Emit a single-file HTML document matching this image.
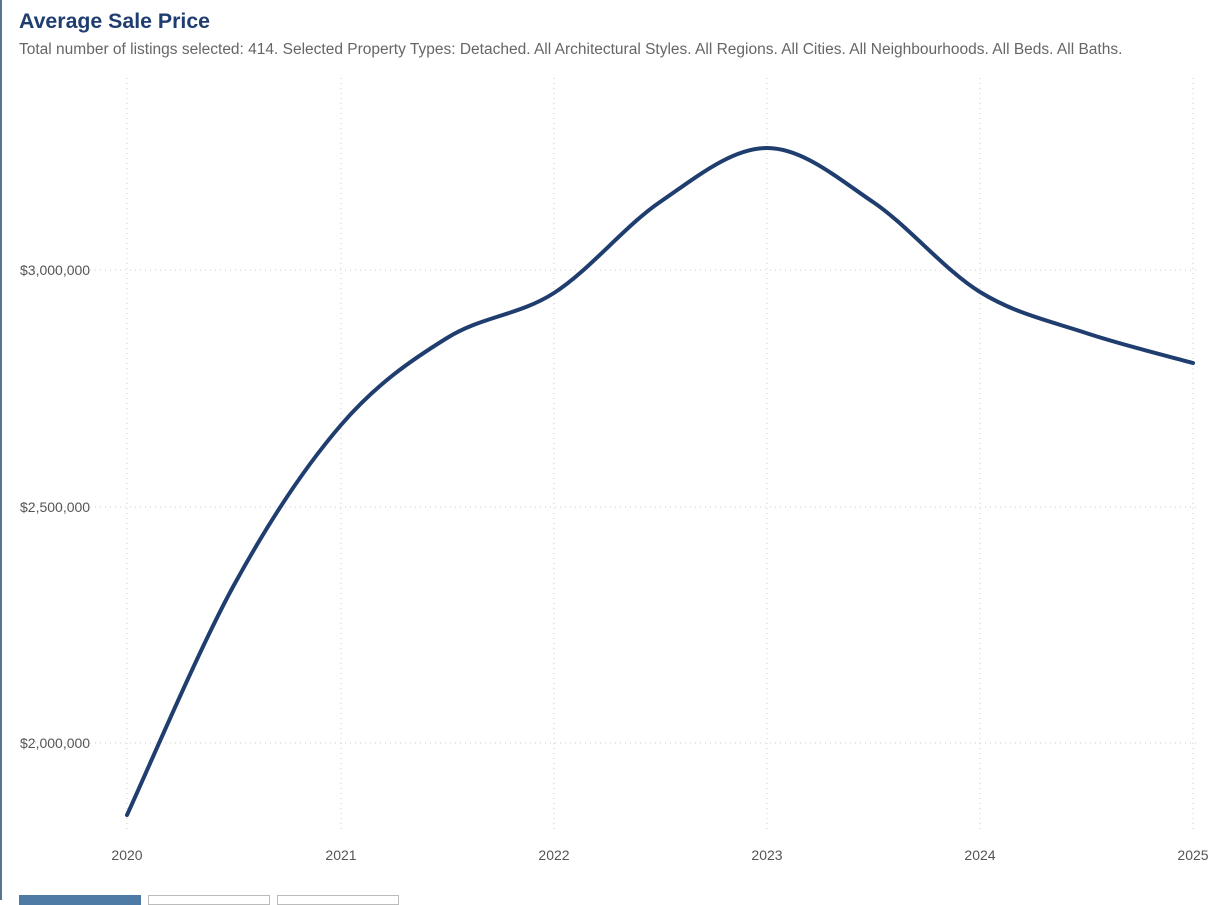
<!DOCTYPE html>
<html><head><meta charset="utf-8"><style>
body{margin:0;width:1230px;height:900px;overflow:hidden;background:#fff;font-family:"Liberation Sans",sans-serif;position:relative}
.lb{position:absolute;left:0;top:0;width:2px;height:900px;background:#5a7590}
h1{position:absolute;left:19px;top:9px;margin:0;font-size:21.3px;font-weight:bold;color:#1f3d6e}
.sub{position:absolute;left:19px;top:41px;font-size:15.5px;color:#666;white-space:nowrap}
.btn{position:absolute;top:895px;height:10px;width:122px;border:1px solid #bbb;box-sizing:border-box;background:#fff}
</style></head><body>
<div class="lb"></div>
<h1>Average Sale Price</h1>
<div class="sub">Total number of listings selected: 414. Selected Property Types: Detached. All Architectural Styles. All Regions. All Cities. All Neighbourhoods. All Beds. All Baths.</div>
<svg width="1230" height="900" style="position:absolute;left:0;top:0">
<g stroke="#ccc" stroke-dasharray="1,4" stroke-width="1">
<line x1="127" y1="78" x2="127" y2="830"/><line x1="341" y1="78" x2="341" y2="830"/><line x1="554" y1="78" x2="554" y2="830"/><line x1="767" y1="78" x2="767" y2="830"/><line x1="980" y1="78" x2="980" y2="830"/><line x1="1193" y1="78" x2="1193" y2="830"/>
<line x1="20" y1="270" x2="1200" y2="270"/><line x1="20" y1="507" x2="1200" y2="507"/><line x1="20" y1="743" x2="1200" y2="743"/>
</g>
<g font-size="14" fill="#555" font-family="Liberation Sans">
<text x="20" y="275">$3,000,000</text><text x="20" y="512">$2,500,000</text><text x="20" y="748">$2,000,000</text>
<g text-anchor="middle"><text x="127" y="860">2020</text><text x="341" y="860">2021</text><text x="554" y="860">2022</text><text x="767" y="860">2023</text><text x="980" y="860">2024</text><text x="1193" y="860">2025</text></g>
</g>
<path id="p" fill="none" stroke="#1f3d6e" stroke-width="4" stroke-linecap="round"/>
</svg>
<div class="btn" style="left:19px;background:#4e7aa6;border-color:#4e7aa6"></div>
<div class="btn" style="left:148px"></div>
<div class="btn" style="left:277px"></div>
<script>
var pts=[[127,815],[234,585],[341,425],[447,338],[554,293],[660,202],[767,148],[873,202],[980,292],[1086,333],[1193,363]];
var d="M"+pts[0];
for(var i=0;i<pts.length-1;i++){var p0=pts[i-1]||pts[i],p1=pts[i],p2=pts[i+1],p3=pts[i+2]||p2;
d+=" C"+(p1[0]+(p2[0]-p0[0])/6)+","+(p1[1]+(p2[1]-p0[1])/6)+" "+(p2[0]-(p3[0]-p1[0])/6)+","+(p2[1]-(p3[1]-p1[1])/6)+" "+p2[0]+","+p2[1];}
document.getElementById("p").setAttribute("d",d);
</script>
</body></html>
